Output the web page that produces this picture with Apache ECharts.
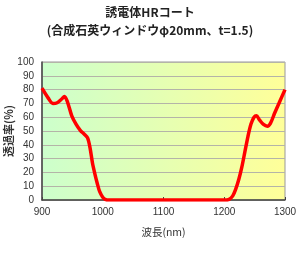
<!DOCTYPE html>
<html>
<head>
<meta charset="utf-8">
<script src="https://cdn.jsdelivr.net/npm/echarts@6/dist/echarts.min.js"></script>
<style>
  html, body { margin: 0; padding: 0; background: #fff; }
  #chart { width: 300px; height: 270px; }
</style>
</head>
<body>
<div id="chart"></div>
<script>
// 波長(nm)
var wavelength = [900, 910, 918, 925, 932, 937, 942, 949, 956, 963, 970, 975, 979, 983, 987, 991, 995, 1000, 1004, 1010,
    1050, 1100, 1150, 1190, 1200, 1208, 1214, 1219, 1224, 1229, 1234, 1239, 1244, 1249, 1253, 1258, 1264, 1271, 1276, 1283, 1291, 1300];
// 透過率(%)
var transmit = [81, 74, 70, 70.5, 73, 75, 71, 61, 55, 50.5, 47.5, 45, 38, 27, 19, 12, 6, 2, 0.5, 0,
    0, 0, 0, 0, 0, 0.5, 3, 8, 15, 24, 35, 46, 55, 60, 61, 58, 55, 53.5, 55.5, 63, 71, 80];
var xTicks = [900, 1000, 1100, 1200, 1300];
var yTicks = [0, 10, 20, 30, 40, 50, 60, 70, 80, 90, 100];

var font = '"Noto Sans CJK JP", "Noto Sans", sans-serif';
var numFont = '"Liberation Sans", Arial, sans-serif';

var chart = echarts.init(document.getElementById('chart'));

var pts = [];
for (var i = 0; i < wavelength.length; i++) {
    pts.push([wavelength[i], transmit[i]]);
}

var option = {
    animation: false,
    title: {
        text: '誘電体HRコート\n(合成石英ウィンドウφ20mm、t=1.5)',
        left: 'center',
        top: -2,
        textStyle: {
            fontFamily: font,
            fontSize: 12,
            fontWeight: 'bold',
            color: '#222',
            lineHeight: 18
        }
    },
    grid: {
        left: 42,
        right: 15,
        top: 62,
        bottom: 70,
        containLabel: false,
        outerBoundsMode: 'none',
        show: true,
        borderColor: '#999',
        borderWidth: 1,
        backgroundColor: new echarts.graphic.LinearGradient(0, 0, 1, 0, [
            {offset: 0, color: '#ccffcc'},
            {offset: 1, color: '#ffff99'}
        ])
    },
    xAxis: {
        type: 'value',
        min: xTicks[0],
        max: xTicks[xTicks.length - 1],
        interval: 100,
        name: '波長(nm)',
        nameLocation: 'middle',
        nameGap: 27,
        nameMoveOverlap: false,
        nameTextStyle: {fontFamily: font, fontSize: 10.5, color: '#333'},
        axisLine: {lineStyle: {color: '#444', width: 1.5}},
        axisTick: {show: true, inside: true, length: 3, lineStyle: {color: '#444'}},
        axisLabel: {
            fontFamily: numFont, fontSize: 10, color: '#333', margin: 7,
            formatter: function (v) { return String(v); }
        },
        splitLine: {show: false}
    },
    yAxis: {
        type: 'value',
        min: yTicks[0],
        max: yTicks[yTicks.length - 1],
        interval: 10,
        name: '透過率(%)',
        nameLocation: 'middle',
        nameRotate: 90,
        nameGap: 28,
        nameMoveOverlap: false,
        nameTextStyle: {fontFamily: font, fontSize: 11, fontWeight: 'bold', color: '#333'},
        axisLine: {show: true, lineStyle: {color: '#444', width: 1.5}},
        axisTick: {show: false},
        axisLabel: {fontFamily: numFont, fontSize: 10, color: '#333', margin: 8},
        splitLine: {show: true, lineStyle: {color: '#b4b4a8', width: 1}}
    },
    series: [
        {
            type: 'line',
            data: pts,
            smooth: 0.3,
            symbol: 'none',
            lineStyle: {color: '#ff0000', width: 3.5},
            z: 5
        }
    ]
};
chart.setOption(option);
</script>
</body>
</html>
